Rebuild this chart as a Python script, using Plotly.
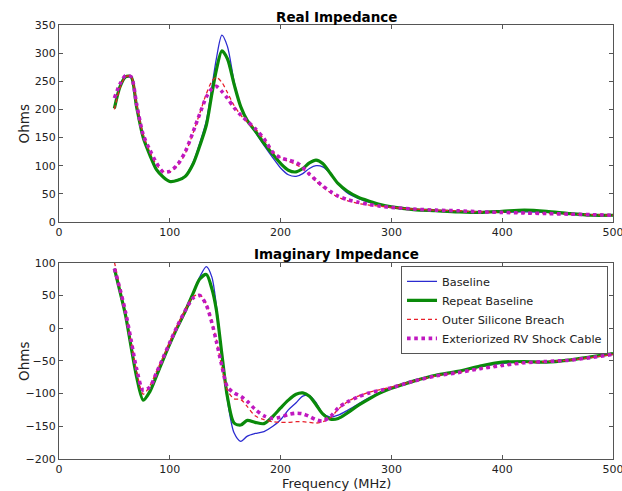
import plotly.graph_objects as go
from plotly.subplots import make_subplots

# Frequency grid (MHz)
freq = [50, 55, 60, 65, 70, 76, 82, 88, 94, 100, 107, 114, 121, 127, 133, 138, 142,
        147, 152, 158, 164, 170, 177, 185, 193, 200, 207, 214, 220, 226, 232, 238,
        245, 252, 260, 270, 280, 290, 300, 320, 340, 360, 380, 400, 420, 440, 460,
        480, 500]

# Real impedance (Ohms)
real_baseline = [204, 240, 258, 258, 205, 152, 118, 93, 80, 73, 75, 82, 106, 140, 180,
                 240, 290, 332, 312, 250, 203, 180, 160, 136, 114, 96, 84, 81, 86, 95,
                 100, 98, 86, 68, 52, 42, 35, 30, 26, 22, 20, 18, 17, 17, 18, 17, 14,
                 12, 12]
real_repeat = [202, 240, 258, 258, 205, 150, 119, 93, 80, 72, 74, 81, 103, 135, 172,
               228, 270, 304, 290, 245, 205, 180, 162, 140, 120, 104, 92, 89, 95, 105,
               110, 104, 86, 68, 55, 44, 37, 31, 27, 22, 20, 18, 17, 19, 21, 19, 15,
               12, 12]
real_breach = [200, 238, 258, 259, 210, 155, 125, 102, 90, 89, 100, 122, 158, 193, 228,
               250, 257, 248, 230, 207, 190, 178, 166, 147, 125, 114, 108, 102, 95, 84,
               72, 62, 52, 44, 38, 33, 30, 28, 26, 23, 21, 20, 18, 17, 16, 15, 14, 13,
               12]
real_cable = [220, 245, 260, 258, 210, 155, 128, 105, 89, 90, 102, 125, 160, 192, 222,
              237, 241, 232, 220, 203, 190, 179, 166, 148, 124, 114, 110, 106, 97, 85,
              74, 64, 54, 46, 40, 35, 31, 28, 26, 23, 21, 20, 18, 17, 16, 15, 14, 13,
              12]

# Imaginary impedance (Ohms)
imag_baseline = [91, 56, 20, -28, -74, -110, -97, -73, -48, -24, 2, 27, 54, 78, 94, 78,
                 35, -40, -110, -160, -173, -165, -161, -158, -150, -140, -125, -114,
                 -104, -103, -114, -130, -136, -133, -126, -116, -106, -98, -91, -80,
                 -72, -66, -59, -54, -52, -52, -49, -44, -39]
imag_repeat = [91, 56, 20, -28, -74, -110, -97, -73, -48, -24, 2, 26, 53, 75, 82, 60,
               28, -40, -105, -145, -148, -141, -144, -146, -135, -122, -110, -101, -99,
               -104, -117, -131, -139, -138, -130, -118, -108, -99, -92, -81, -72, -66,
               -58, -52, -51, -52, -49, -44, -39]
imag_breach = [101, 63, 25, -20, -65, -101, -88, -66, -44, -21, 5, 28, 48, 51, 37, 10,
               -18, -60, -95, -108, -109, -120, -134, -140, -143, -144, -144, -143,
               -143, -144, -145, -143, -137, -124, -113, -104, -98, -94, -90, -81, -73,
               -68, -62, -57, -53, -51, -49, -45, -40]
imag_cable = [91, 60, 25, -18, -62, -95, -90, -68, -45, -22, 4, 27, 46, 50, 35, 8, -20,
              -58, -90, -99, -104, -112, -124, -134, -138, -136, -132, -130, -131, -135,
              -140, -142, -135, -122, -113, -105, -99, -95, -91, -81, -73, -68, -62,
              -57, -53, -51, -49, -45, -40]

names = ["Baseline", "Repeat Baseline", "Outer Silicone Breach", "Exteriorized RV Shock Cable"]
styles = [
    dict(color="#2b2bd0", width=1.3, dash="solid"),
    dict(color="#0a8a0a", width=3.2, dash="solid"),
    dict(color="#e8202a", width=1.3, dash="4px,3px"),
    dict(color="#c018c0", width=3.6, dash="dot"),
]
real_series = [real_baseline, real_repeat, real_breach, real_cable]
imag_series = [imag_baseline, imag_repeat, imag_breach, imag_cable]

fig = make_subplots(rows=2, cols=1, shared_xaxes=False)

for name, st, yr, yi in zip(names, styles, real_series, imag_series):
    fig.add_trace(go.Scatter(x=freq, y=yr, mode="lines", name=name, showlegend=False,
                             line=dict(shape="spline", smoothing=0.8, **st)), row=1, col=1)
    fig.add_trace(go.Scatter(x=freq, y=yi, mode="lines", name=name, showlegend=True,
                             line=dict(shape="spline", smoothing=0.8, **st)), row=2, col=1)

axis_common = dict(showgrid=False, zeroline=False, showline=True, linecolor="#555555",
                   linewidth=1, mirror="allticks", ticks="inside", ticklen=4,
                   tickcolor="#555555", automargin=False, ticklabeloverflow="allow",
                   tickfont=dict(family="DejaVu Sans", size=11, color="#222222"))

fig.update_xaxes(range=[0, 500], tickvals=[0, 100, 200, 300, 400, 500], **axis_common)
fig.update_yaxes(**axis_common)
fig.update_yaxes(range=[0, 350], tickvals=list(range(0, 351, 50)), row=1, col=1)
fig.update_yaxes(range=[-200, 100], tickvals=list(range(-200, 101, 50)), row=2, col=1)

fig.update_layout(
    width=622, height=491,
    margin=dict(l=59, r=9, t=25, b=32),
    paper_bgcolor="white", plot_bgcolor="white",
    font=dict(family="DejaVu Sans", color="#222222"),
    xaxis=dict(domain=[0, 1]), xaxis2=dict(domain=[0, 1]),
    yaxis=dict(domain=[0.5461, 1.0]),
    yaxis2=dict(domain=[0.0, 0.4523]),
    legend=dict(x=0.991, y=0.4450, xanchor="right", yanchor="top",
                bgcolor="white", bordercolor="#555555", borderwidth=1,
                font=dict(family="DejaVu Sans", size=11.3, color="#222222"),
                itemwidth=30, tracegroupgap=0),
    annotations=[
        dict(text="<b>Real Impedance</b>", xref="paper", yref="paper", x=0.5, y=1.018,
             xanchor="center", yanchor="middle", showarrow=False,
             font=dict(size=13.5, color="black")),
        dict(text="<b>Imaginary Impedance</b>", xref="paper", yref="paper", x=0.5,
             y=0.4724, xanchor="center", yanchor="middle", showarrow=False,
             font=dict(size=13.5, color="black")),
        dict(text="Frequency (MHz)", xref="paper", yref="paper", x=0.5, y=-0.0553,
             xanchor="center", yanchor="middle", showarrow=False,
             font=dict(size=13, color="#222222")),
        dict(text="Ohms", xref="paper", yref="paper", x=-0.0633, y=0.773,
             xanchor="center", yanchor="middle", textangle=-90, showarrow=False,
             font=dict(size=13.5, color="#222222")),
        dict(text="Ohms", xref="paper", yref="paper", x=-0.0633, y=0.2258,
             xanchor="center", yanchor="middle", textangle=-90, showarrow=False,
             font=dict(size=13.5, color="#222222")),
    ],
)

fig.write_html("out.html")
